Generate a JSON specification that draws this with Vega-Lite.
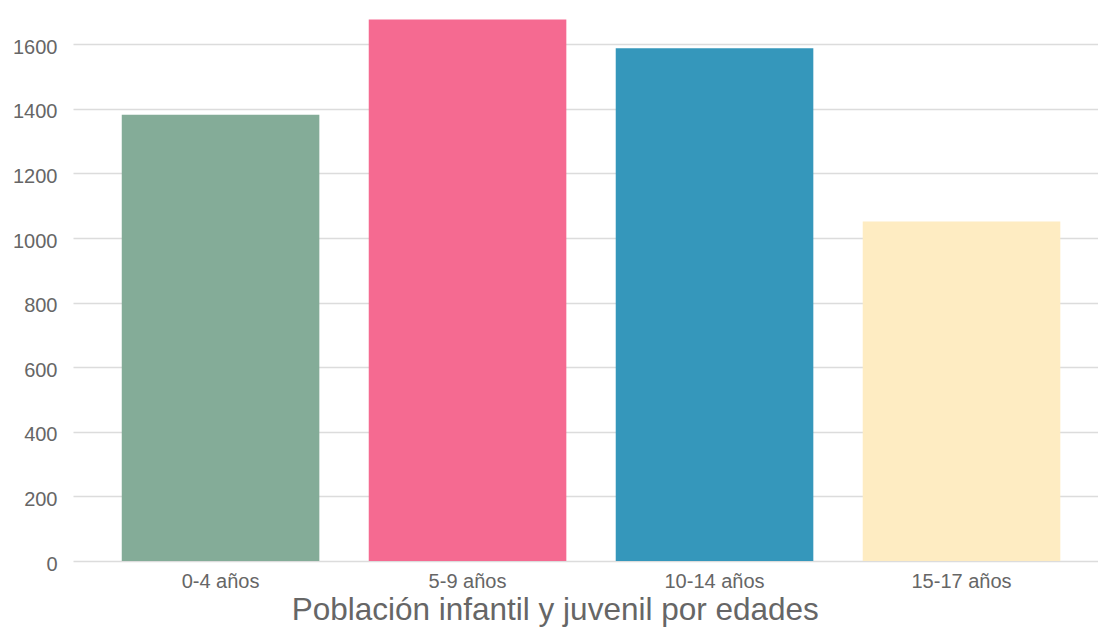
{
  "$schema": "https://vega.github.io/schema/vega-lite/v6.json",
  "width": 1025,
  "height": 549,
  "autosize": "none",
  "padding": {"left": 73, "top": 12, "right": 0, "bottom": 68},
  "background": "#ffffff",
  "config": {
    "view": {"stroke": null},
    "font": "Liberation Sans"
  },
  "title": {
    "text": "Población infantil y juvenil por edades",
    "orient": "bottom",
    "anchor": "middle",
    "frame": "bounds",
    "fontSize": 31.5,
    "fontWeight": "normal",
    "color": "#666666",
    "font": "Liberation Sans",
    "offset": 4
  },
  "data": {
    "values": [
      {"grupo": "0-4 años", "poblacion": 1382},
      {"grupo": "5-9 años", "poblacion": 1677},
      {"grupo": "10-14 años", "poblacion": 1588},
      {"grupo": "15-17 años", "poblacion": 1051}
    ]
  },
  "mark": {"type": "bar"},
  "encoding": {
    "x": {
      "field": "grupo",
      "type": "nominal",
      "sort": null,
      "scale": {"paddingInner": 0.2, "paddingOuter": 0.175, "align": 0.564},
      "axis": {
        "title": null,
        "labelAngle": 0,
        "labelFontSize": 20,
        "labelColor": "#666666",
        "labelPadding": 10,
        "ticks": false,
        "domain": false,
        "grid": false
      }
    },
    "y": {
      "field": "poblacion",
      "type": "quantitative",
      "scale": {"domain": [0, 1700], "nice": false},
      "axis": {
        "title": null,
        "format": "d",
        "values": [0, 200, 400, 600, 800, 1000, 1200, 1400, 1600],
        "labelFontSize": 20,
        "labelColor": "#666666",
        "labelPadding": 16,
        "labelOffset": 3,
        "ticks": false,
        "domain": false,
        "grid": true,
        "gridColor": "#dcdcdc",
        "gridWidth": 1.5
      }
    },
    "color": {
      "field": "grupo",
      "type": "nominal",
      "sort": null,
      "scale": {
        "domain": ["0-4 años", "5-9 años", "10-14 años", "15-17 años"],
        "range": ["#84ac98", "#f56a91", "#3597bb", "#feecc2"]
      },
      "legend": null
    }
  }
}
